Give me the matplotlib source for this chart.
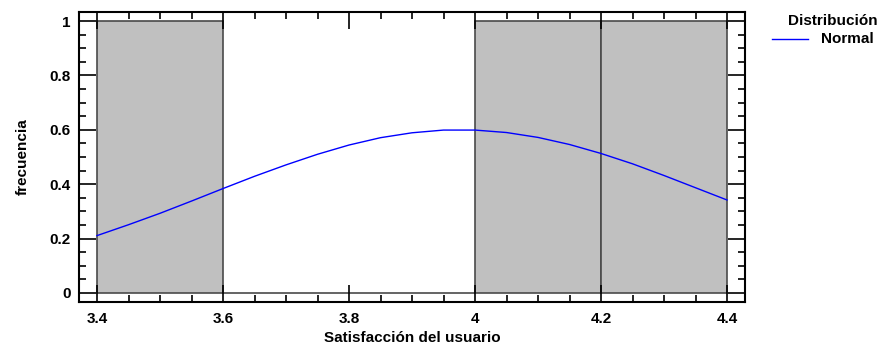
import matplotlib
matplotlib.use("Agg")
import matplotlib.pyplot as plt
from matplotlib.lines import Line2D
from matplotlib.ticker import MultipleLocator

plt.rcParams['font.family'] = ['Liberation Sans', 'DejaVu Sans']
plt.rcParams['font.weight'] = 'bold'

# Histogram data
bin_edges = [3.4, 3.6, 3.8, 4.0, 4.2, 4.4]
counts = [1, 0, 0, 1, 1]

# Fitted normal curve
curve_x = [3.40, 3.45, 3.50, 3.55, 3.60, 3.65, 3.70, 3.75, 3.80, 3.85, 3.90,
           3.95, 4.00, 4.05, 4.10, 4.15, 4.20, 4.25, 4.30, 4.35, 4.40]
curve_y = [0.211, 0.251, 0.293, 0.338, 0.384, 0.429, 0.471, 0.510, 0.544, 0.571, 0.589,
           0.599, 0.599, 0.590, 0.572, 0.546, 0.513, 0.475, 0.432, 0.387, 0.342]

x_ticks = [3.4, 3.6, 3.8, 4.0, 4.2, 4.4]
x_tick_labels = ['3.4', '3.6', '3.8', '4', '4.2', '4.4']
y_ticks = [0, 0.2, 0.4, 0.6, 0.8, 1.0]
y_tick_labels = ['0', '0.2', '0.4', '0.6', '0.8', '1']

fig = plt.figure(figsize=(8.81, 3.45), dpi=100)
ax = fig.add_axes([79/881, 1-302/345, (745-79)/881, (302-12)/345])

widths = [bin_edges[i+1]-bin_edges[i] for i in range(len(counts))]
ax.bar(bin_edges[:-1], counts, width=widths, align='edge', color='#C0C0C0',
       edgecolor='#4a4a4a', linewidth=1.2, zorder=1)
line, = ax.plot(curve_x, curve_y, color='#0000FF', linewidth=1.0, zorder=3, label='Normal')

ax.set_xlim(3.4 - 18/630, 4.4 + 18/630)
ax.set_ylim(-9/272, 1 + 9/272)

ax.set_xticks(x_ticks)
ax.set_xticklabels(x_tick_labels)
ax.set_yticks(y_ticks)
ax.set_yticklabels(y_tick_labels)
ax.xaxis.set_minor_locator(MultipleLocator(0.05))
ax.yaxis.set_minor_locator(MultipleLocator(0.05))
ax.tick_params(which='both', direction='in', top=True, right=True, color='black', width=1.2)
ax.tick_params(which='major', length=12, labelsize=11, pad=6)
ax.tick_params(axis='x', which='major', pad=7.5)
ax.tick_params(which='minor', length=5)
for lab in ax.get_xticklabels() + ax.get_yticklabels():
    lab.set_fontweight('bold')
for sp in ax.spines.values():
    sp.set_linewidth(1.5)
    sp.set_color('black')

ax.set_xlabel('Satisfacción del usuario', fontsize=11, fontweight='bold', labelpad=3)
ax.set_ylabel('frecuencia', fontsize=11, fontweight='bold', labelpad=14)

# Legend (manual)
fig.text(878/881, 1-21/345, 'Distribución', ha='right', va='center', fontsize=11, fontweight='bold')
fig.add_artist(Line2D([772/881, 808/881], [1-39/345, 1-39/345], color=line.get_color(),
                      linewidth=1.0, transform=fig.transFigure))
fig.text(821/881, 1-39/345, line.get_label(), ha='left', va='center', fontsize=11, fontweight='bold')

fig.savefig('out.png', dpi=100)
